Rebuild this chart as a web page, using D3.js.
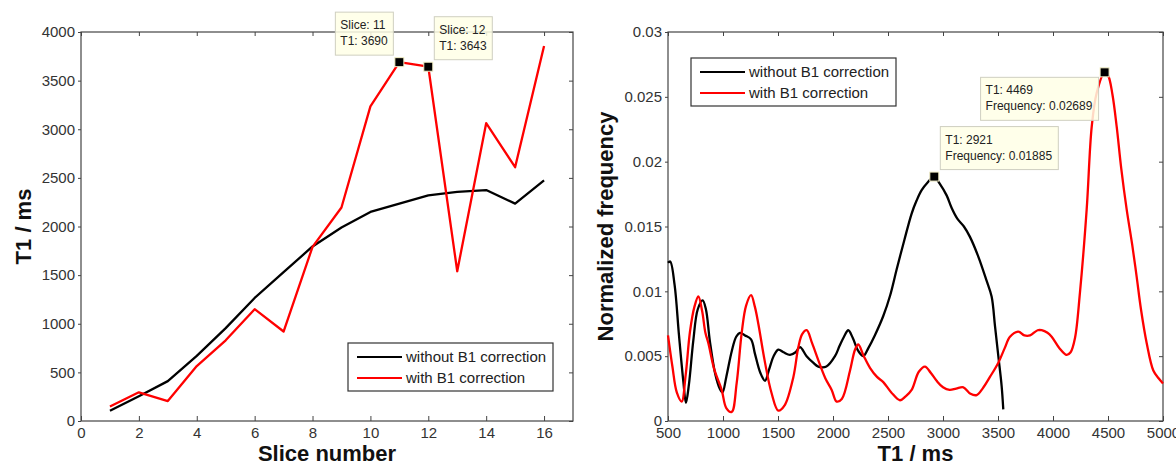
<!DOCTYPE html>
<html>
<head>
<meta charset="utf-8">
<script src="https://cdn.jsdelivr.net/npm/d3@7"></script>
<style>
    body { margin: 0; background: #fff; }
    svg { font-family: "Liberation Sans", Arial, sans-serif; }
    .tick text { fill: #333; font-size: 15px; }
    .tick line { stroke: #444; }
    .axisTitle { fill: #111; font-size: 22px; font-weight: bold; }
    .legend text { fill: #222; font-size: 15px; }
    .tip text { fill: #222; font-size: 12px; }
</style>
</head>
<body>
<div id="chart"></div>
<script>
// left plot: T1 per slice
var slices = [1, 2, 3, 4, 5, 6, 7, 8, 9, 10, 11, 12, 13, 14, 15, 16];
var t1WithoutB1 = [105, 255, 410, 670, 955, 1265, 1530, 1795, 1990, 2150, 2235, 2320, 2355, 2375, 2235, 2475];
var t1WithB1 = [150, 295, 205, 565, 830, 1150, 920, 1790, 2195, 3235, 3690, 3643, 1540, 3062, 2610, 3855];
var sliceTicks = [0, 2, 4, 6, 8, 10, 12, 14, 16];
var t1Ticks = [0, 500, 1000, 1500, 2000, 2500, 3000, 3500, 4000];

// right plot: T1 histogram, [T1, frequency]
var histWithoutB1 = [
    [500, 0.0122], [520, 0.0123], [560, 0.0105], [600, 0.0066], [640, 0.0030], [663, 0.0014],
    [690, 0.0028], [730, 0.0062], [770, 0.0086], [815, 0.0093], [845, 0.0086], [880, 0.0062],
    [930, 0.0036], [970, 0.0025], [995, 0.0022], [1030, 0.0034], [1080, 0.0054], [1120, 0.0065],
    [1155, 0.0068], [1200, 0.0066], [1255, 0.0063], [1290, 0.0052], [1340, 0.0037], [1382, 0.0031],
    [1420, 0.0040], [1460, 0.0050], [1503, 0.0055], [1550, 0.0053], [1609, 0.0051], [1660, 0.0053],
    [1700, 0.0057], [1760, 0.0050], [1820, 0.0045], [1866, 0.0042], [1940, 0.0042], [2018, 0.0050],
    [2060, 0.0058], [2100, 0.0065], [2139, 0.0070], [2180, 0.0064], [2230, 0.0054], [2276, 0.0050],
    [2320, 0.0056], [2380, 0.0066], [2457, 0.0081], [2520, 0.0097], [2579, 0.0117], [2650, 0.0140],
    [2715, 0.0160], [2760, 0.0170], [2806, 0.0178], [2860, 0.0184], [2921, 0.01885], [2970, 0.0183],
    [3033, 0.0174], [3080, 0.0164], [3130, 0.0156], [3190, 0.0150], [3245, 0.0142], [3320, 0.0127],
    [3397, 0.0108], [3442, 0.0096], [3473, 0.0073], [3503, 0.0050], [3533, 0.0027], [3548, 0.0009]
];
var histWithB1 = [
    [500, 0.0066], [540, 0.0042], [580, 0.0022], [624, 0.0015], [660, 0.0035], [700, 0.0069],
    [740, 0.0088], [776, 0.0096], [810, 0.0085], [840, 0.0068], [867, 0.0060], [920, 0.0040],
    [988, 0.0024], [1030, 0.0010], [1079, 0.0007], [1124, 0.0029], [1170, 0.0068], [1210, 0.0089],
    [1255, 0.0097], [1290, 0.0088], [1321, 0.0075], [1382, 0.0045], [1440, 0.0022], [1503, 0.0008],
    [1560, 0.0012], [1640, 0.0034], [1685, 0.0057], [1720, 0.0067], [1761, 0.0070], [1810, 0.0060],
    [1866, 0.0047], [1930, 0.0033], [1988, 0.0024], [2033, 0.0015], [2080, 0.0017], [2155, 0.0039],
    [2200, 0.0055], [2230, 0.0059], [2280, 0.0050], [2336, 0.0041], [2400, 0.0034], [2457, 0.0030],
    [2530, 0.0022], [2609, 0.0016], [2660, 0.0019], [2715, 0.0024], [2780, 0.0038], [2836, 0.0042],
    [2890, 0.0037], [2942, 0.0031], [3000, 0.0026], [3060, 0.0024], [3120, 0.0025], [3185, 0.0026],
    [3250, 0.0021], [3306, 0.0020], [3360, 0.0025], [3427, 0.0034], [3503, 0.0045], [3560, 0.0056],
    [3609, 0.0065], [3685, 0.0069], [3740, 0.0066], [3791, 0.0066], [3860, 0.0070], [3897, 0.0070],
    [3950, 0.0068], [3988, 0.0065], [4060, 0.0056], [4124, 0.0051], [4160, 0.0053], [4200, 0.0064],
    [4245, 0.0099], [4306, 0.0163], [4352, 0.0227], [4397, 0.0253], [4469, 0.02689], [4503, 0.0266],
    [4540, 0.0252], [4579, 0.0227], [4620, 0.0195], [4670, 0.0163], [4720, 0.0136], [4761, 0.0111],
    [4800, 0.0086], [4852, 0.0060], [4912, 0.0039], [4960, 0.0033], [5000, 0.0029]
];
var histXTicks = [500, 1000, 1500, 2000, 2500, 3000, 3500, 4000, 4500, 5000];
var histYTicks = [0, 0.005, 0.01, 0.015, 0.02, 0.025, 0.03];

var seriesNames = ["without B1 correction", "with B1 correction"];
var seriesColors = ["#000000", "#ff0000"];

var width = 1176, height = 466;

var svg = d3.select("#chart").append("svg")
    .attr("width", width)
    .attr("height", height);

function drawFrame(g, x, y, xTicks, yTicks, yFormat) {
    var w = x.range()[1] - x.range()[0];
    var h = y.range()[0] - y.range()[1];

    g.append("g")
        .attr("transform", "translate(0," + h + ")")
        .call(d3.axisBottom(x).tickValues(xTicks).tickSizeInner(-5).tickSizeOuter(0).tickPadding(6).tickFormat(d3.format("d")));
    g.append("g")
        .call(d3.axisTop(x).tickValues(xTicks).tickSizeInner(-4).tickSizeOuter(0).tickFormat(""));
    g.append("g")
        .call(d3.axisLeft(y).tickValues(yTicks).tickSizeInner(3).tickSizeOuter(0).tickPadding(3).tickFormat(yFormat));
    g.append("g")
        .attr("transform", "translate(" + w + ",0)")
        .call(d3.axisRight(y).tickValues(yTicks).tickSizeInner(-4).tickSizeOuter(0).tickFormat(""));

    g.selectAll(".domain").remove();

    g.append("rect")
        .attr("width", w)
        .attr("height", h)
        .attr("fill", "none")
        .attr("stroke", "#444")
        .attr("stroke-width", 1.2);
}

function drawLegend(g, bx, by) {
    var lg = g.append("g").attr("class", "legend")
        .attr("transform", "translate(" + bx + "," + by + ")");
    lg.append("rect")
        .attr("width", 205)
        .attr("height", 48)
        .attr("fill", "#fff")
        .attr("stroke", "#333")
        .attr("stroke-width", 1.2);
    var rows = lg.selectAll(".row").data(seriesNames).enter().append("g")
        .attr("class", "row")
        .attr("transform", function(d, i) { return "translate(0," + (14 + i * 21) + ")"; });
    rows.append("line")
        .attr("x1", 9).attr("x2", 54)
        .attr("stroke", function(d, i) { return seriesColors[i]; })
        .attr("stroke-width", 2.2);
    rows.append("text")
        .attr("x", 58)
        .attr("dy", "0.35em")
        .text(function(d) { return d; });
}

function drawTip(g, px, py, lines, side) {
    // side: where the box sits relative to the marker
    var tip = g.append("g").attr("class", "tip");
    var box = tip.append("rect")
        .attr("fill", "#ffffe6")
        .attr("fill-opacity", 0.85)
        .attr("stroke", "#cfcfc0");
    var texts = tip.selectAll("text").data(lines).enter().append("text")
        .attr("x", 5)
        .attr("y", function(d, i) { return 17 + i * 16; })
        .text(function(d) { return d; });
    var tw = 0;
    texts.each(function() { tw = Math.max(tw, this.getComputedTextLength()); });
    var bw = Math.round(tw + 11), bh = 43;
    box.attr("width", bw).attr("height", bh);

    var tx = side[1] === "l" ? px - 6 - bw : px + 6;
    var ty = side[0] === "t" ? py - 7 - bh : py + 5;
    tip.attr("transform", "translate(" + tx + "," + ty + ")");

    g.append("rect")
        .attr("x", px - 4.5).attr("y", py - 4.5)
        .attr("width", 9).attr("height", 9)
        .attr("fill", "#000")
        .attr("stroke", "#f4f0c8")
        .attr("stroke-width", 1);
}

// ---- left plot
var g1 = svg.append("g").attr("transform", "translate(81,32)");
var x1 = d3.scaleLinear().domain([0, 17]).range([0, 492]);
var y1 = d3.scaleLinear().domain([0, 4000]).range([389, 0]);

drawFrame(g1, x1, y1, sliceTicks, t1Ticks, d3.format("d"));

var line1 = d3.line()
    .x(function(d, i) { return x1(slices[i]); })
    .y(function(d) { return y1(d); });

[t1WithoutB1, t1WithB1].forEach(function(s, k) {
    g1.append("path")
        .attr("d", line1(s))
        .attr("fill", "none")
        .attr("stroke", seriesColors[k])
        .attr("stroke-width", 2.3)
        .attr("stroke-linejoin", "round");
});

drawLegend(g1, 267, 311);

drawTip(g1, x1(11), y1(t1WithB1[10]), ["Slice: 11", "T1: 3690"], "tl");
drawTip(g1, x1(12), y1(t1WithB1[11]), ["Slice: 12", "T1: 3643"], "tr");

g1.append("text").attr("class", "axisTitle")
    .attr("x", 246).attr("y", 429)
    .attr("text-anchor", "middle")
    .text("Slice number");
g1.append("text").attr("class", "axisTitle")
    .attr("transform", "translate(-50,194.5) rotate(-90)")
    .attr("text-anchor", "middle")
    .text("T1 / ms");

// ---- right plot
var g2 = svg.append("g").attr("transform", "translate(668,32)");
var x2 = d3.scaleLinear().domain([500, 5000]).range([0, 495]);
var y2 = d3.scaleLinear().domain([0, 0.03]).range([389, 0]);

drawFrame(g2, x2, y2, histXTicks, histYTicks, function(d) { return d === 0 ? "0" : String(+d.toFixed(3)); });

var line2 = d3.line()
    .curve(d3.curveCatmullRom.alpha(0.5))
    .x(function(d) { return x2(d[0]); })
    .y(function(d) { return y2(d[1]); });

[histWithoutB1, histWithB1].forEach(function(s, k) {
    g2.append("path")
        .attr("d", line2(s))
        .attr("fill", "none")
        .attr("stroke", seriesColors[k])
        .attr("stroke-width", 2.3)
        .attr("stroke-linejoin", "round");
});

drawLegend(g2, 23, 26);

drawTip(g2, x2(2921), y2(0.01885), ["T1: 2921", "Frequency: 0.01885"], "tr");
drawTip(g2, x2(4469), y2(0.02689), ["T1: 4469", "Frequency: 0.02689"], "bl");

g2.append("text").attr("class", "axisTitle")
    .attr("x", 247.5).attr("y", 429)
    .attr("text-anchor", "middle")
    .text("T1 / ms");
g2.append("text").attr("class", "axisTitle")
    .attr("transform", "translate(-55,194.5) rotate(-90)")
    .attr("text-anchor", "middle")
    .text("Normalized frequency");
</script>
</body>
</html>
